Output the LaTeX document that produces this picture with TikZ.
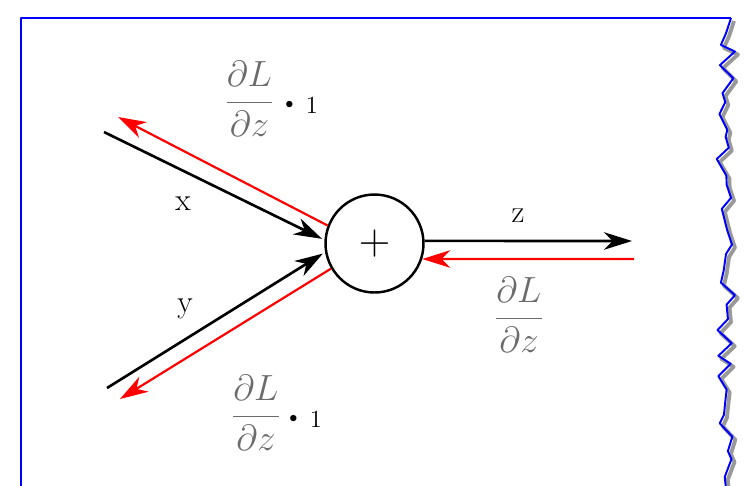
\documentclass[tikz,border=0pt]{standalone}
\usepackage{amsmath}
\usetikzlibrary{arrows.meta,positioning}
\begin{document}
\begin{tikzpicture}[
  x=0.02cm,y=-0.02cm,
  >={Stealth[length=16pt,width=10pt,inset=5pt]},
  wire/.style={->,line width=1.5pt},
  grad/.style={->,red,line width=1.25pt},
  gate/.style={draw,circle,line width=1.4pt,minimum size=1.96cm,inner sep=0pt,
    font=\fontsize{23}{27}\selectfont},
  lbl/.style={anchor=base,inner sep=0pt,font=\fontsize{18}{21}\selectfont},
  frac/.style={text=black!58,inner sep=0pt,font=\fontsize{21}{25}\selectfont},
  times/.style={anchor=base west,inner sep=0pt,font=\fontsize{14}{17}\selectfont},
  frame/.style={blue,line width=1.1pt,line join=round}
]
  \useasboundingbox (0,0) rectangle (751,485);
  % paper edge, torn on the right
  \draw[frame] (21,490) -- (21,18) -- (731,18);
  \pgfmathsetseed{9}
  \draw[black!40,line width=2.2pt,line join=round,shift={(3,3)}] (731,18)
    \foreach \i in {1,...,40} { -- ({716+mod(\i,2)*7+12*rnd},{18+12*\i+8*rnd-4}) };
  \pgfmathsetseed{9}
  \draw[frame] (731,18)
    \foreach \i in {1,...,40} { -- ({716+mod(\i,2)*7+12*rnd},{18+12*\i+8*rnd-4}) };

  \node[gate] (add) at (374.5,243.5) {$+$};
  \coordinate (xin) at (104,132);
  \coordinate (xback) at (118,117);
  \coordinate (yin) at (107,388);
  \coordinate (yback) at (120,399);
  \coordinate (zout) at (632,241);
  \coordinate (zback) at (634,259);

  % forward
  \draw[wire,shorten >=1.5pt] (xin) -- (add.176);
  \draw[wire,shorten >=1.5pt] (yin) -- (add.190);
  \draw[wire] (add.3) -- (zout);
  % backward
  \draw[grad] (add.159) -- (xback);
  \draw[grad] (add.210) -- (yback);
  \draw[grad] (zback) -- (add.342);

  \node[lbl] (xl) at (183,210) {x};
  \node[lbl] (yl) at (185,312) {y};
  \node[lbl] (zl) at (518,222) {z};

  \node[frac] (gx) at (249.5,99) {$\dfrac{\partial L}{\partial z}$};
  \node[times] (gxone) at (285,113)
    {\raisebox{2.5pt}{\fontsize{9}{10}\selectfont$\bullet$}\hspace{7pt}1};
  \node[frac] (gy) at (256,413) {$\dfrac{\partial L}{\partial z}$};
  \node[times] (gyone) at (289,427)
    {\raisebox{2.5pt}{\fontsize{9}{10}\selectfont$\bullet$}\hspace{7pt}1};
  \node[frac] (gz) at (519,315) {$\dfrac{\partial L}{\partial z}$};
\end{tikzpicture}
\end{document}
